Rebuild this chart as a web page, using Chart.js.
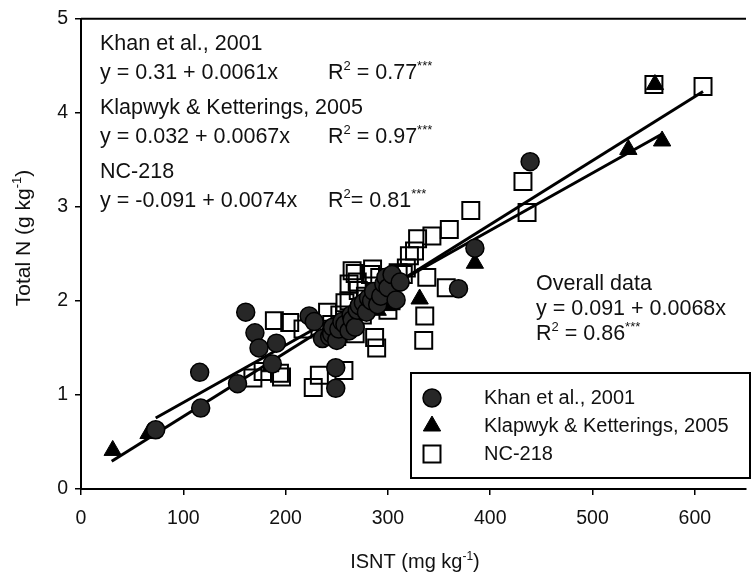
<!DOCTYPE html>
<html>
<head>
<meta charset="utf-8">
<script src="https://cdn.jsdelivr.net/npm/chart.js@4.4.1/dist/chart.umd.min.js"></script>
<style>
  html, body { margin: 0; padding: 0; background: #fff; overflow: hidden; }
  #wrap { width: 760px; height: 577px; }
</style>
</head>
<body>
<div id="wrap"><canvas id="chart" width="760" height="577"></canvas></div>
<script>
// ISNT vs total N, three data sources
const khanX = [73, 116, 117, 153, 161, 170, 174, 187, 191, 223, 228, 236, 243, 245, 246, 249, 249, 250, 252, 255, 258, 262, 264, 265, 268, 270, 272, 276, 279, 281, 284, 286, 290, 293, 296, 298, 300, 304, 308, 312, 369, 385, 439];
const khanY = [0.63, 1.24, 0.86, 1.12, 1.88, 1.66, 1.50, 1.33, 1.55, 1.84, 1.78, 1.60, 1.62, 1.65, 1.72, 1.29, 1.07, 1.58, 1.70, 1.78, 1.75, 1.68, 1.85, 1.80, 1.72, 1.90, 1.95, 1.98, 1.88, 2.03, 2.00, 2.10, 1.96, 2.05, 2.18, 2.25, 2.14, 2.28, 2.01, 2.20, 2.13, 2.56, 3.48];

const klapX = [31, 66, 185, 250, 290, 300, 331, 385, 535, 561, 568];
const klapY = [0.41, 0.59, 1.30, 1.60, 1.90, 1.95, 2.02, 2.40, 3.61, 4.30, 3.70];

const ncX = [168, 178, 189, 204, 194, 196, 217, 227, 233, 241, 245, 247, 250, 253, 257, 258, 262, 262, 265, 268, 268, 270, 271, 275, 278, 280, 283, 285, 287, 289, 292, 296, 298, 300, 303, 305, 310, 315, 318, 321, 326, 329, 336, 335, 338, 343, 357, 360, 381, 432, 436, 560, 608];
const ncY = [1.18, 1.25, 1.79, 1.77, 1.23, 1.19, 1.70, 1.08, 1.21, 1.88, 1.75, 1.68, 1.62, 1.85, 1.26, 1.98, 2.00, 2.18, 2.32, 2.29, 1.65, 2.20, 2.11, 1.85, 2.05, 1.95, 2.28, 2.34, 1.61, 1.50, 2.25, 2.05, 2.12, 1.90, 2.00, 2.20, 2.30, 2.28, 2.35, 2.48, 2.53, 2.66, 1.84, 1.58, 2.25, 2.69, 2.14, 2.76, 2.96, 3.27, 2.94, 4.30, 4.28];

// regression coefficients [intercept, slope] and R2
const khanFit = [0.31, 0.0061], khanR2 = 0.77;
const klapFit = [0.032, 0.0067], klapR2 = 0.97;
const ncFit = [-0.091, 0.0074], ncR2 = 0.81;
const overallFit = [0.091, 0.0068], overallR2 = 0.86;
const khanRange = [73, 568];
const overallRange = [30, 608];

const xTicks = [0, 100, 200, 300, 400, 500, 600];
const yTicks = [0, 1, 2, 3, 4, 5];

const FONT = '"Liberation Sans", Arial, Helvetica, sans-serif';

function pts(xs, ys) { return xs.map((x, i) => ({ x: x, y: ys[i] })); }
function fitLine(c, r) { return r.map(x => ({ x: x, y: c[0] + c[1] * x })); }
function eqText(c) { return 'y = ' + c[0] + ' + ' + c[1] + 'x'; }

// draw text runs, second item true = superscript
function rich(ctx, x, y, parts, size) {
  parts.forEach(p => {
    const s = p[1] ? Math.round(size * 0.62) : size;
    ctx.font = s + 'px ' + FONT;
    ctx.fillText(p[0], x, p[1] ? y - size * 0.42 : y);
    x += ctx.measureText(p[0]).width;
  });
  return x;
}
function richWidth(ctx, parts, size) {
  let w = 0;
  parts.forEach(p => {
    ctx.font = (p[1] ? Math.round(size * 0.62) : size) + 'px ' + FONT;
    w += ctx.measureText(p[0]).width;
  });
  return w;
}

const styles = {
  khan: { pointStyle: 'circle', radius: 9, backgroundColor: '#272727', borderColor: '#000', borderWidth: 1.5 },
  klap: { pointStyle: 'triangle', radius: 10, backgroundColor: '#000', borderColor: '#000', borderWidth: 1 },
  nc: { pointStyle: 'rect', radius: 12, backgroundColor: 'rgba(255,255,255,0)', borderColor: '#000', borderWidth: 2 }
};

const extras = {
  id: 'extras',
  afterDraw(chart) {
    const ctx = chart.ctx, a = chart.chartArea;
    ctx.save();
    // top frame
    ctx.strokeStyle = '#000';
    ctx.lineWidth = 2;
    ctx.beginPath();
    ctx.moveTo(a.left, a.top);
    ctx.lineTo(a.right, a.top);
    ctx.stroke();

    ctx.fillStyle = '#111';
    ctx.textBaseline = 'alphabetic';
    ctx.textAlign = 'left';
    const fs = 21.5, rx = 328;
    const blocks = [
      ['Khan et al., 2001', khanFit, khanR2, ' = ', 50],
      ['Klapwyk & Ketterings, 2005', klapFit, klapR2, ' = ', 114],
      ['NC-218', ncFit, ncR2, '= ', 178]
    ];
    blocks.forEach(b => {
      rich(ctx, 100, b[4], [[b[0]]], fs);
      rich(ctx, 100, b[4] + 29, [[eqText(b[1])]], fs);
      rich(ctx, rx, b[4] + 29, [['R'], ['2', true], [b[3] + b[2].toFixed(2)], ['***', true]], fs);
    });

    rich(ctx, 536, 290, [['Overall data']], fs);
    rich(ctx, 536, 315, [[eqText(overallFit)]], fs);
    rich(ctx, 536, 340, [['R'], ['2', true], [' = ' + overallR2.toFixed(2)], ['***', true]], fs);

    // legend box
    ctx.fillStyle = '#fff';
    ctx.fillRect(411, 373, 339, 105);
    ctx.strokeStyle = '#000';
    ctx.lineWidth = 2;
    ctx.strokeRect(411, 373, 339, 105);
    const items = [
      ['Khan et al., 2001', styles.khan, 398],
      ['Klapwyk & Ketterings, 2005', styles.klap, 426],
      ['NC-218', styles.nc, 454]
    ];
    items.forEach(it => {
      const st = it[1];
      ctx.fillStyle = st.backgroundColor;
      ctx.strokeStyle = st.borderColor;
      ctx.lineWidth = st.borderWidth;
      Chart.helpers.drawPoint(ctx, { pointStyle: st.pointStyle, radius: st.radius, rotation: 0, borderWidth: st.borderWidth }, 432, it[2]);
      ctx.fillStyle = '#111';
      ctx.textBaseline = 'middle';
      rich(ctx, 484, it[2], [[it[0]]], 20);
      ctx.textBaseline = 'alphabetic';
    });

    // axis titles
    ctx.fillStyle = '#111';
    const xt = [['ISNT (mg kg'], ['-1', true], [')']];
    rich(ctx, 415 - richWidth(ctx, xt, 20) / 2, 568, xt, 20);

    const yt = [['Total N (g kg'], ['-1', true], [')']];
    const w = richWidth(ctx, yt, 21);
    ctx.translate(30, 238);
    ctx.rotate(-Math.PI / 2);
    rich(ctx, -w / 2, 0, yt, 21);
    ctx.restore();
  }
};

const axisGrid = { display: true, drawOnChartArea: false, drawTicks: true, tickLength: 6, color: '#000', lineWidth: 1.5 };

new Chart(document.getElementById('chart'), {
  type: 'scatter',
  data: {
    datasets: [
      Object.assign({ label: 'Khan et al., 2001', data: pts(khanX, khanY), order: 0 }, styles.khan, { pointRadius: styles.khan.radius }),
      Object.assign({ label: 'Klapwyk & Ketterings, 2005', data: pts(klapX, klapY), order: 1 }, styles.klap, { pointRadius: styles.klap.radius }),
      Object.assign({ label: 'NC-218', data: pts(ncX, ncY), order: 2 }, styles.nc, { pointRadius: styles.nc.radius }),
      { label: 'Khan fit', data: fitLine(khanFit, khanRange), showLine: true, pointRadius: 0, borderColor: '#000', borderWidth: 3, order: 3 },
      { label: 'Overall fit', data: fitLine(overallFit, overallRange), showLine: true, pointRadius: 0, borderColor: '#000', borderWidth: 3, order: 3 }
    ]
  },
  options: {
    responsive: false,
    animation: false,
    devicePixelRatio: 1,
    layout: { padding: { top: 17, right: 3, left: 0, bottom: 0 } },
    plugins: { legend: { display: false }, tooltip: { enabled: false } },
    scales: {
      x: {
        type: 'linear', min: 0, max: 650,
        afterBuildTicks: s => { s.ticks = xTicks.map(v => ({ value: v })); },
        afterFit: s => { s.height = 88; },
        grid: axisGrid,
        border: { display: true, color: '#000', width: 2 },
        ticks: { color: '#111', font: { family: FONT, size: 19.5 }, padding: 12, maxRotation: 0 }
      },
      y: {
        type: 'linear', min: 0, max: 5,
        afterBuildTicks: s => { s.ticks = yTicks.map(v => ({ value: v })); },
        afterFit: s => { s.width = 81; },
        grid: axisGrid,
        border: { display: true, color: '#000', width: 2 },
        ticks: { color: '#111', font: { family: FONT, size: 19.5 }, padding: 7 }
      }
    }
  },
  plugins: [extras]
});
</script>
</body>
</html>
